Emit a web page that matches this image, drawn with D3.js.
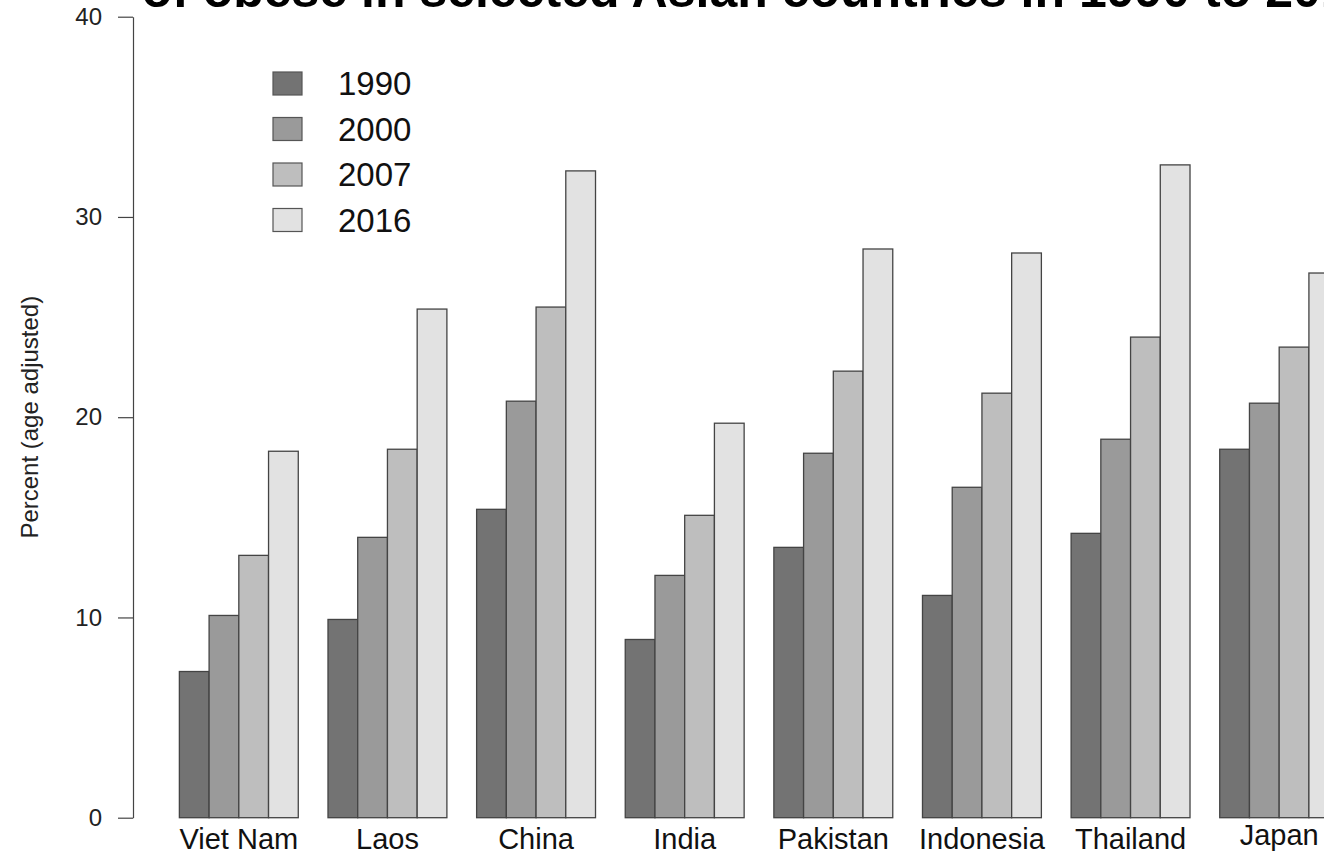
<!DOCTYPE html>
<html>
<head>
<meta charset="utf-8">
<script src="https://cdn.jsdelivr.net/npm/d3@7"></script>
<style>
  body { margin: 0; background: #fff; }
  svg { display: block; font-family: "Liberation Sans", Arial, Helvetica, sans-serif; }
</style>
</head>
<body>
<div id="chart"></div>
<script>
// Obesity prevalence (age adjusted, %) by country and year
var countries = ["Viet Nam", "Laos", "China", "India", "Pakistan", "Indonesia", "Thailand", "Japan"];
var years = ["1990", "2000", "2007", "2016"];
var v1990 = [7.3, 9.9, 15.4, 8.9, 13.5, 11.1, 14.2, 18.4];
var v2000 = [10.1, 14.0, 20.8, 12.1, 18.2, 16.5, 18.9, 20.7];
var v2007 = [13.1, 18.4, 25.5, 15.1, 22.3, 21.2, 24.0, 23.5];
var v2016 = [18.3, 25.4, 32.3, 19.7, 28.4, 28.2, 32.6, 27.2];
var yTicks = [0, 10, 20, 30, 40];
var titleText = "of obese in selected Asian countries in 1990 to 2016";
var yLabel = "Percent (age adjusted)";

var series = [v1990, v2000, v2007, v2016];
var data = countries.map(function(c, i) {
	return { country: c, values: years.map(function(y, j) { return { year: y, value: series[j][i] }; }) };
});

var width = 1324, height = 856;
var plot = { left: 133, right: 1385, top: 16.7, bottom: 817.7 };

var svg = d3.select("#chart").append("svg")
		.attr("width", width)
		.attr("height", height);

var color = d3.scaleOrdinal()
		.domain(years)
		.range(["#737373", "#9a9a9a", "#bebebe", "#e2e2e2"]);

var y = d3.scaleLinear()
		.domain([0, 40])
		.range([plot.bottom, plot.top]);

var x0 = d3.scaleBand()
		.domain(countries)
		.range([plot.left, plot.right])
		.paddingInner(0.2)
		.paddingOuter(0.312);

var x1 = d3.scaleBand()
		.domain(years)
		.range([0, x0.bandwidth()]);

// Bars
var groups = svg.append("g").attr("class", "bars")
	.selectAll("g")
	.data(data)
	.enter().append("g")
		.attr("transform", function(d) { return "translate(" + x0(d.country) + ",0)"; });

groups.selectAll("rect")
	.data(function(d) { return d.values; })
	.enter().append("rect")
		.attr("x", function(d) { return x1(d.year); })
		.attr("y", function(d) { return y(d.value); })
		.attr("width", x1.bandwidth())
		.attr("height", function(d) { return y(0) - y(d.value); })
		.attr("fill", function(d) { return color(d.year); })
		.attr("stroke", "#444")
		.attr("stroke-width", 1.3);

// Y axis
var yAxis = svg.append("g")
		.attr("transform", "translate(" + plot.left + ",0)")
		.call(d3.axisLeft(y).tickValues(yTicks).tickSize(15).tickSizeOuter(0).tickPadding(16));

yAxis.select(".domain").attr("stroke", "#444").attr("stroke-width", 1.2);
yAxis.selectAll(".tick line").attr("stroke", "#444").attr("stroke-width", 1.2);
yAxis.selectAll(".tick text")
		.attr("font-size", 24)
		.attr("font-family", "Liberation Sans, Arial, sans-serif")
		.attr("fill", "#222");

// Country labels (centred vertically on the ink, as R does)
var xAxis = svg.append("g")
		.attr("transform", "translate(0," + plot.bottom + ")")
		.call(d3.axisBottom(x0).tickSize(0));

xAxis.select(".domain").remove();
xAxis.selectAll(".tick text")
		.attr("font-size", 29)
		.attr("font-family", "Liberation Sans, Arial, sans-serif")
		.attr("fill", "#111")
		.attr("dy", null)
		.attr("y", function(d) { return /[gjpqy]/.test(d) ? 27 : 31.5; });

// Y axis label
svg.append("text")
		.attr("transform", "translate(38," + y(20) + ") rotate(-90)")
		.attr("text-anchor", "middle")
		.attr("font-size", 24)
		.attr("fill", "#222")
		.text(yLabel);

// Title (upper part falls outside the picture)
svg.append("text")
		.attr("x", (plot.left + plot.right) / 2)
		.attr("y", 7)
		.attr("text-anchor", "middle")
		.attr("font-size", 50)
		.attr("font-weight", "bold")
		.attr("fill", "#000")
		.text(titleText);

// Legend
var legend = svg.append("g")
		.attr("transform", "translate(273,83.5)");

var legendItem = legend.selectAll("g")
	.data(years)
	.enter().append("g")
		.attr("transform", function(d, i) { return "translate(0," + i * 45.5 + ")"; });

legendItem.append("rect")
		.attr("x", 0)
		.attr("y", -11.5)
		.attr("width", 29)
		.attr("height", 23)
		.attr("fill", function(d) { return color(d); })
		.attr("stroke", "#555")
		.attr("stroke-width", 1.2);

legendItem.append("text")
		.attr("x", 65)
		.attr("y", 0)
		.attr("dy", "0.35em")
		.attr("font-size", 33)
		.attr("fill", "#111")
		.text(function(d) { return d; });
</script>
</body>
</html>
